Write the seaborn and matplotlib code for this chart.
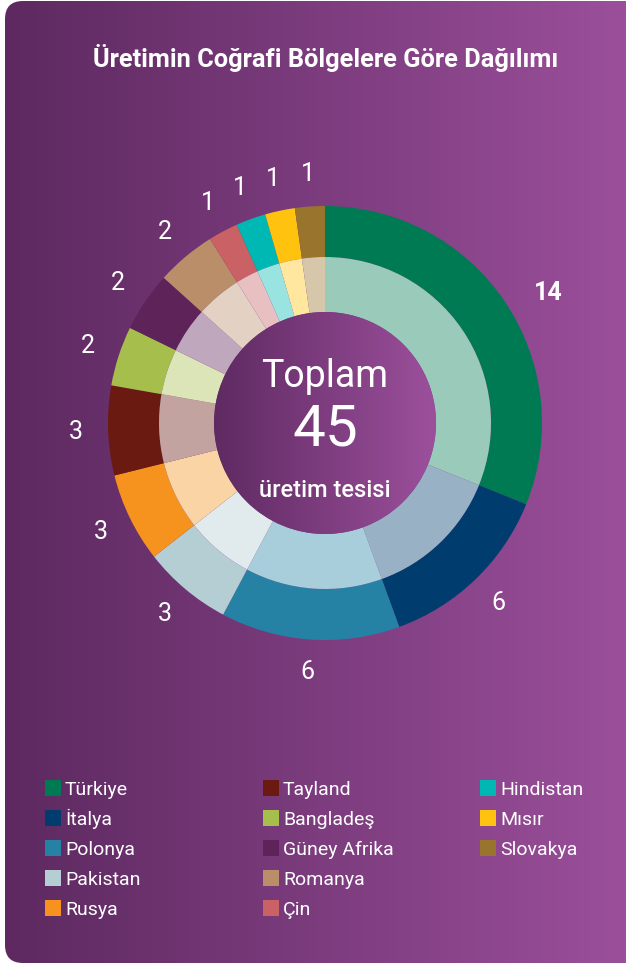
import numpy as np
import matplotlib
matplotlib.use("Agg")
import matplotlib.pyplot as plt
import seaborn as sns
from matplotlib.colors import LinearSegmentedColormap, to_rgb
from matplotlib.patches import FancyBboxPatch, Circle, Rectangle

# ---------------- data ----------------
countries = ["Türkiye", "İtalya", "Polonya", "Pakistan", "Rusya", "Tayland",
             "Bangladeş", "Güney Afrika", "Romanya", "Çin", "Hindistan", "Mısır", "Slovakya"]
facilities = [14, 6, 6, 3, 3, 3, 2, 2, 2, 1, 1, 1, 1]
colors = ["#007A52", "#003D6E", "#2582A5", "#B5CED4", "#F6931E", "#6A1A10",
          "#A6BE4B", "#5E2359", "#B98E68", "#C96165", "#00B8B3", "#FFC20E", "#98742C"]
title = "Üretimin Coğrafi Bölgelere Göre Dağılımı"
center_top = "Toplam"
center_total = str(sum(facilities))
center_bottom = "üretim tesisi"

sns.set_theme(style="white")
plt.rcParams["font.family"] = ["Roboto", "DejaVu Sans"]

W, H = 626, 964
fig = plt.figure(figsize=(W / 100, H / 100), dpi=100)
fig.patch.set_facecolor("white")

# ---------------- background (pixel overlay axes) ----------------
bg = fig.add_axes([0, 0, 1, 1], zorder=0)
bg.set_xlim(0, W)
bg.set_ylim(H, 0)
bg.axis("off")
bg_cmap = LinearSegmentedColormap.from_list("bg", ["#5D2960", "#9C509C"])
grad = np.linspace(0, 1, 256).reshape(1, -1)
im = bg.imshow(grad, cmap=bg_cmap, extent=[5, 640, 963, 1], aspect="auto", zorder=0)
box = FancyBboxPatch((5, 1), 660, 962, boxstyle="round,pad=0,rounding_size=18",
                     transform=bg.transData, facecolor="none", edgecolor="none")
bg.add_patch(box)
im.set_clip_path(box)

bg.text(326, 58, title, ha="center", va="center", color="white",
        fontsize=18.3, fontweight="bold")

# legend (3 columns, column-major like the reference)
col_x = [45, 263, 480]
row_y0, row_dy = 788, 30
for i, (name, c) in enumerate(zip(countries, colors)):
    col, row = divmod(i, 5)
    x = col_x[col]
    y = row_y0 + row * row_dy
    bg.add_patch(Rectangle((x, y - 8), 16, 16, facecolor=c, edgecolor="none"))
    bg.text(x + 20, y + 7, name, ha="left", va="baseline", color="white", fontsize=14)

# ---------------- donut ----------------
cx, cy = 325, 423
L = 1.3
R_px = 217
side = 2 * L * R_px
ax = fig.add_axes([(cx - side / 2) / W, (H - cy - side / 2) / H, side / W, side / H], zorder=1)
ax.set_xlim(-L, L)
ax.set_ylim(-L, L)
ax.set_aspect("equal")
ax.axis("off")
ax.patch.set_alpha(0)

def lighten(c, a=0.4):
    r, g, b = to_rgb(c)
    return (a * r + (1 - a), a * g + (1 - a), a * b + (1 - a))

inner_colors = [lighten(c) for c in colors]

wedges, texts = ax.pie(facilities, radius=1.0, colors=colors, startangle=90,
                       counterclock=False, labels=[str(v) for v in facilities],
                       labeldistance=1.15,
                       wedgeprops=dict(width=0.235, edgecolor="none", linewidth=0),
                       textprops=dict(color="white", fontsize=18, ha="center", va="center"))
texts[0].set_fontweight("bold")
x0, y0 = texts[0].get_position()
texts[0].set_position((x0 * 1.08, y0 * 0.93))

ax.pie(facilities, radius=166 / R_px, colors=inner_colors, startangle=90,
       counterclock=False,
       wedgeprops=dict(width=(166 - 111) / R_px, edgecolor="none", linewidth=0))

rc = 111 / R_px
circ = Circle((0, 0), rc, transform=ax.transData, facecolor="none", edgecolor="none")
ax.add_patch(circ)
cim = ax.imshow(grad, cmap=LinearSegmentedColormap.from_list("c", ["#5F2A62", "#9C509C"]),
                extent=[-rc, rc, -rc, rc], aspect="auto", zorder=3)
cim.set_clip_path(circ)
ax.set_xlim(-L, L)
ax.set_ylim(-L, L)

ax.text(0, 0.215, center_top, ha="center", va="center", color="white",
        fontsize=27, fontweight="normal", zorder=4)
ax.text(0, -0.03, center_total, ha="center", va="center", color="white",
        fontsize=42, fontweight="normal", zorder=4)
ax.text(0, -0.31, center_bottom, ha="center", va="center", color="white",
        fontsize=17, fontweight="medium", zorder=4)

fig.savefig("out.png", dpi=100)
